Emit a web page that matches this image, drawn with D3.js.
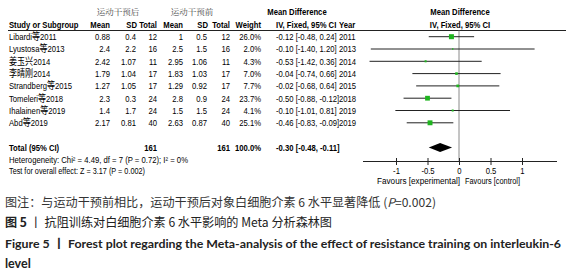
<!DOCTYPE html>
<html>
<head>
<meta charset="utf-8">
<script src="https://cdn.jsdelivr.net/npm/d3@7"></script>
<style>
  html, body { margin: 0; padding: 0; background: #fff; }
  svg text { font-family: "Liberation Sans", Arial, "Noto Sans CJK SC", sans-serif; }
  text.cap { font-family: "Noto Sans CJK SC", sans-serif; }
</style>
</head>
<body>
<svg id="chart" width="566" height="277"></svg>
<script>
// study rows
const studies  = ['Libardi等2011', 'Lyustosa等2013', '姜玉兴2014', '李晴刚2014', 'Strandberg等2015', 'Tomeleri等2018', 'Ihalainen等2019', 'Abd等2019'];
const postMean = ['0.88', '2.4', '2.42', '1.79', '1.27', '2.3', '1.4', '2.17'];
const postSD   = ['0.4', '2.2', '1.07', '1.04', '1.05', '0.3', '1.7', '0.81'];
const postN    = [12, 16, 11, 17, 17, 24, 24, 40];
const preMean  = ['1', '2.5', '2.95', '1.83', '1.29', '2.8', '1.5', '2.63'];
const preSD    = ['0.5', '1.5', '1.06', '1.03', '0.92', '0.9', '1.5', '0.87'];
const preN     = [12, 16, 11, 17, 17, 24, 24, 40];
const weights  = [26.0, 2.0, 4.3, 7.0, 7.7, 23.7, 4.1, 25.1];
const md       = [-0.12, -0.10, -0.53, -0.04, -0.02, -0.50, -0.10, -0.46];
const ciLo     = [-0.48, -1.40, -1.42, -0.74, -0.68, -0.88, -1.01, -0.83];
const ciHi     = [0.24, 1.20, 0.36, 0.66, 0.64, -0.12, 0.81, -0.09];
const years    = [2011, 2013, 2014, 2014, 2015, 2018, 2019, 2019];
const pooled   = [-0.30, -0.48, -0.11]; // estimate, lo, hi
const totals   = [161, 161];
const axisTicks = [-1, -0.5, 0, 0.5, 1];

const svg = d3.select('#chart');
const ink = '#000';
const NARROW = 0.8; // fake "Arial Narrow"
const FS = 9.6;

// layout
const rowY = d3.scaleLinear().domain([0, 1]).range([36.7, 49]); // row pitch
const x = d3.scaleLinear().domain([-1.5, 1.5]).range([364.5, 553.5]);
const fmt2 = v => v.toFixed(2); // plain hyphen minus like RevMan
const fmtCI = (m, l, h) => `${fmt2(m)} [${fmt2(l)}, ${fmt2(h)}]`;

function txt(g, xx, yy, s, anchor, opts = {}) {
  const sx = opts.len ? 1 : (opts.sx || NARROW);
  const t = g.append('text')
    .attr('transform', `translate(${xx},${yy}) scale(${sx},1)`)
    .attr('dy', '0.35em')
    .attr('text-anchor', anchor || 'start')
    .attr('font-size', opts.size || FS)
    .attr('font-weight', opts.bold ? 'bold' : 'normal')
    .attr('fill', opts.fill || ink);
  if (opts.len) t.attr('textLength', opts.len).attr('lengthAdjust', 'spacingAndGlyphs');
  // CJK runs get a larger size so they are not squeezed by the narrow scale
  String(s).split(/([\u4e00-\u9fff]+)/).filter(p => p).forEach(p => {
    const sp = t.append('tspan').text(p);
    if (/[\u4e00-\u9fff]/.test(p) && sx !== 1) sp.attr('font-size', (opts.size || FS) / sx * 0.84);
  });
  return t;
}

const table = svg.append('g');

// group headers
txt(table, 118, 12, '运动干预后', 'middle', {size: 8.5, fill: '#444', sx: 1}).style('font-family', '"Noto Serif CJK SC", "Noto Sans CJK SC"');
txt(table, 192, 12, '运动干预前', 'middle', {size: 8.5, fill: '#444', sx: 1}).style('font-family', '"Noto Serif CJK SC", "Noto Sans CJK SC"');
txt(table, 297, 12, 'Mean Difference', 'middle', {bold: true});
txt(table, 460, 12, 'Mean Difference', 'middle', {bold: true});

// column headers
const colHead = 24.5;
txt(table, 9, colHead, 'Study or Subgroup', 'start', {bold: true});
txt(table, 110, colHead, 'Mean', 'end', {bold: true});
txt(table, 137, colHead, 'SD', 'end', {bold: true});
txt(table, 157, colHead, 'Total', 'end', {bold: true});
txt(table, 183, colHead, 'Mean', 'end', {bold: true});
txt(table, 208, colHead, 'SD', 'end', {bold: true});
txt(table, 230, colHead, 'Total', 'end', {bold: true});
txt(table, 261, colHead, 'Weight', 'end', {bold: true});
txt(table, 276, colHead, 'IV, Fixed, 95% CI', 'start', {bold: true});
txt(table, 339, colHead, 'Year', 'start', {bold: true});
txt(table, 460, colHead, 'IV, Fixed, 95% CI', 'middle', {bold: true});

svg.append('line')
  .attr('x1', 8).attr('x2', 566).attr('y1', 30.5).attr('y2', 30.5)
  .attr('stroke', '#222').attr('stroke-width', 1);

// study rows
studies.forEach((s, i) => {
  const yy = rowY(i);
  txt(table, 9, yy, s, 'start');
  txt(table, 110, yy, postMean[i], 'end');
  txt(table, 136, yy, postSD[i], 'end');
  txt(table, 157, yy, postN[i], 'end');
  txt(table, 183, yy, preMean[i], 'end');
  txt(table, 207, yy, preSD[i], 'end');
  txt(table, 230, yy, preN[i], 'end');
  txt(table, 261, yy, weights[i].toFixed(1) + '%', 'end');
  txt(table, 276, yy, fmtCI(md[i], ciLo[i], ciHi[i]), 'start');
  txt(table, 339, yy, years[i], 'start');
});

// total row
const totalY = 147.5;
txt(table, 9, totalY, 'Total (95% CI)', 'start', {bold: true});
txt(table, 157, totalY, totals[0], 'end', {bold: true});
txt(table, 230, totalY, totals[1], 'end', {bold: true});
txt(table, 261, totalY, '100.0%', 'end', {bold: true});
txt(table, 276, totalY, fmtCI(pooled[0], pooled[1], pooled[2]), 'start', {bold: true});
txt(table, 9, 160, 'Heterogeneity: Chi² = 4.49, df = 7 (P = 0.72); I² = 0%', 'start', {size: 8.5, len: 179});
txt(table, 9, 171, 'Test for overall effect: Z = 3.17 (P = 0.002)', 'start', {size: 8.5, len: 136});

// forest plot
const plot = svg.append('g');
const axisY = 161;

plot.append('line')
  .attr('x1', x(0)).attr('x2', x(0))
  .attr('y1', 30.5).attr('y2', axisY)
  .attr('stroke', '#8a8a8a').attr('stroke-width', 1);

const rows = studies.map((s, i) => ({i, md: md[i], lo: ciLo[i], hi: ciHi[i], w: weights[i]}));

plot.selectAll('line.ci')
  .data(rows)
  .join('line')
  .attr('class', 'ci')
  .attr('x1', d => x(d.lo)).attr('x2', d => x(d.hi))
  .attr('y1', d => rowY(d.i)).attr('y2', d => rowY(d.i))
  .attr('stroke', '#222').attr('stroke-width', 1);

const side = w => 0.98 * Math.sqrt(w);
plot.selectAll('rect.pt')
  .data(rows)
  .join('rect')
  .attr('class', 'pt')
  .attr('x', d => x(d.md) - side(d.w) / 2)
  .attr('y', d => rowY(d.i) - side(d.w) / 2)
  .attr('width', d => side(d.w))
  .attr('height', d => side(d.w))
  .attr('fill', '#1fb41f');

// pooled diamond
plot.append('path')
  .attr('d', `M${x(pooled[1])},${totalY} L${x(pooled[0])},${totalY - 4.5} L${x(pooled[2])},${totalY} L${x(pooled[0])},${totalY + 4.5} Z`)
  .attr('fill', '#000');

// axis
const axis = d3.axisBottom(x)
  .tickValues(axisTicks)
  .tickSize(4)
  .tickPadding(2)
  .tickFormat(d => String(d));

const ax = plot.append('g')
  .attr('transform', `translate(0,${axisY})`)
  .call(axis);
ax.select('.domain').attr('d', `M363,0.5H557`).attr('stroke', '#222');
ax.selectAll('.tick line').attr('y1', -3).attr('stroke', '#222');
ax.selectAll('.tick text')
  .attr('font-size', 9.6)
  .attr('fill', ink)
  .attr('transform', `scale(${NARROW},1)`)
  .attr('x', 0)
  .style('font-family', '"Liberation Sans", Arial, sans-serif');

txt(plot, 460, 181, 'Favours [experimental]', 'end', {size: 8.5, len: 83});
txt(plot, 465, 181, 'Favours [control]', 'start', {size: 8.5, len: 55});

// captions
const cap = svg.append('g');
const c1 = cap.append('text').attr('class', 'cap').attr('x', 5).attr('y', 206.5)
  .attr('font-size', 12).attr('fill', '#333');
c1.append('tspan').text('图注：与运动干预前相比，运动干预后对象白细胞介素 6 水平显著降低 (');
c1.append('tspan').attr('font-style', 'italic').text('P');
c1.append('tspan').text('=0.002)');
c1.attr('textLength', 431).attr('lengthAdjust', 'spacingAndGlyphs');

const c2 = cap.append('text').attr('class', 'cap').attr('x', 5).attr('y', 227)
  .attr('font-size', 12.5).attr('fill', '#222');
c2.append('tspan').attr('font-weight', 'bold').text('图 5');
c2.append('tspan').text(' 丨 抗阻训练对白细胞介素 6 水平影响的 Meta 分析森林图');
c2.attr('textLength', 327).attr('lengthAdjust', 'spacingAndGlyphs');

cap.append('text').attr('x', 5).attr('y', 247.5)
  .attr('font-size', 12).attr('font-weight', 'bold').attr('fill', '#222')
  .style('font-family', 'Lato, "Open Sans", "Noto Sans CJK SC", sans-serif')
  .attr('textLength', 556).attr('lengthAdjust', 'spacingAndGlyphs')
  .text('Figure 5 丨 Forest plot regarding the Meta-analysis of the effect of resistance training on interleukin-6');
cap.append('text').attr('x', 5).attr('y', 268)
  .attr('font-size', 12.5).attr('font-weight', 'bold').attr('fill', '#222')
  .style('font-family', 'Lato, "Open Sans", sans-serif')
  .text('level');
</script>
</body>
</html>
